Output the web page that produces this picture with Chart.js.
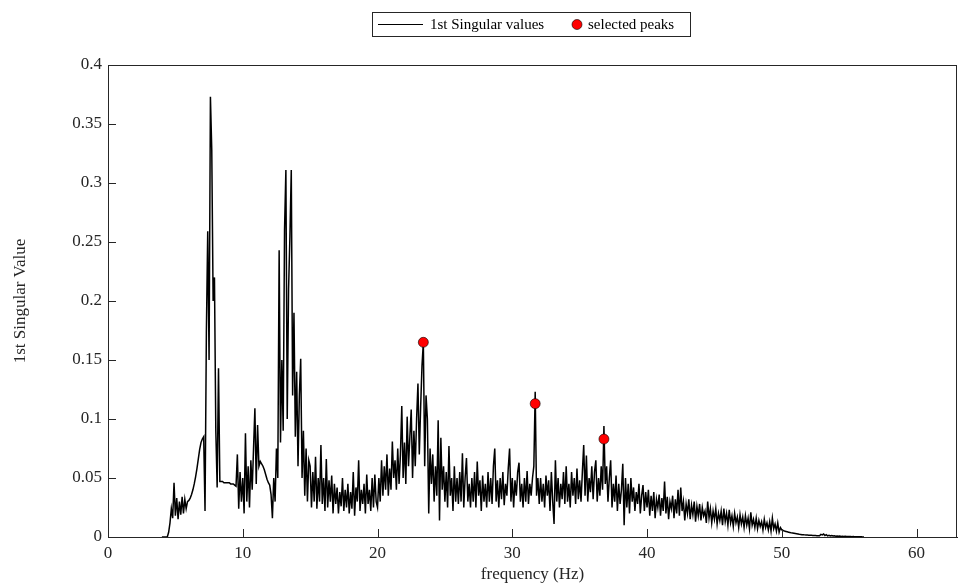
<!DOCTYPE html>
<html>
<head>
<meta charset="utf-8">
<script src="https://cdn.jsdelivr.net/npm/chart.js@4.4.1/dist/chart.umd.min.js"></script>
<style>
  html, body { margin: 0; padding: 0; background: #fff; }
  #wrap { width: 959px; height: 587px; }
</style>
</head>
<body>
<div id="wrap"><canvas id="svd-chart" width="959" height="587"></canvas></div>
<script>
// frequency bins of the spectrum (Hz)
const freqStart = 4.0;
const freqStep = 0.1;

// 1st singular value, one row per Hz (4.0 ... 56.1 Hz)
const singularValues = [
  0, 0, 0, 0, 0, 0.004, 0.012, 0.024, 0.016, 0.046,
  0.018, 0.033, 0.015, 0.03, 0.019, 0.034, 0.02, 0.032, 0.024, 0.03,
  0.031, 0.033, 0.036, 0.04, 0.045, 0.051, 0.058, 0.066, 0.074, 0.08,
  0.083, 0.085, 0.022, 0.173, 0.259, 0.15, 0.373, 0.328, 0.2, 0.22,
  0.09, 0.042, 0.143, 0.047, 0.047, 0.047, 0.046, 0.046, 0.046, 0.046,
  0.046, 0.045, 0.045, 0.045, 0.044, 0.043, 0.07, 0.024, 0.055, 0.03,
  0.05, 0.02, 0.088, 0.03, 0.06, 0.025, 0.065, 0.04, 0.075, 0.109,
  0.045, 0.095, 0.06, 0.064, 0.062, 0.06, 0.057, 0.053, 0.049, 0.046,
  0.044, 0.036, 0.016, 0.05, 0.03, 0.075, 0.05, 0.243, 0.08, 0.15,
  0.09, 0.26, 0.311, 0.1, 0.21, 0.255, 0.311, 0.12, 0.19, 0.085,
  0.14, 0.06, 0.12, 0.151, 0.05, 0.09, 0.035, 0.075, 0.03, 0.065,
  0.06, 0.025, 0.055, 0.03, 0.068, 0.024, 0.05, 0.03, 0.078, 0.028,
  0.05, 0.022, 0.066, 0.025, 0.048, 0.03, 0.052, 0.02, 0.045, 0.028,
  0.042, 0.02, 0.038, 0.026, 0.05, 0.022, 0.04, 0.025, 0.045, 0.02,
  0.038, 0.024, 0.055, 0.018, 0.042, 0.03, 0.065, 0.022, 0.04, 0.028,
  0.045, 0.02, 0.053, 0.028, 0.04, 0.022, 0.05, 0.025, 0.053, 0.03,
  0.025, 0.05, 0.03, 0.065, 0.035, 0.06, 0.04, 0.07, 0.035, 0.058,
  0.04, 0.081, 0.05, 0.065, 0.04, 0.075, 0.045, 0.07, 0.111, 0.05,
  0.08, 0.045, 0.102, 0.06, 0.085, 0.108, 0.05, 0.09, 0.06, 0.1,
  0.13, 0.07, 0.11, 0.145, 0.165, 0.06, 0.12, 0.1, 0.02, 0.075,
  0.045, 0.07, 0.03, 0.06, 0.035, 0.099, 0.014, 0.084, 0.04, 0.06,
  0.03, 0.055, 0.025, 0.077, 0.035, 0.05, 0.022, 0.06, 0.03, 0.05,
  0.028, 0.055, 0.03, 0.071, 0.025, 0.05, 0.067, 0.03, 0.045, 0.025,
  0.05, 0.03, 0.055, 0.025, 0.064, 0.035, 0.048, 0.022, 0.052, 0.03,
  0.045, 0.025, 0.055, 0.03, 0.05, 0.028, 0.06, 0.075, 0.03, 0.048,
  0.025, 0.05, 0.032, 0.055, 0.027, 0.045, 0.035, 0.058, 0.075, 0.03,
  0.05, 0.025, 0.048, 0.035, 0.055, 0.063, 0.03, 0.045, 0.025, 0.05,
  0.03, 0.056, 0.028, 0.045, 0.035, 0.05, 0.06, 0.123, 0.035, 0.05,
  0.028, 0.05, 0.03, 0.045, 0.025, 0.052, 0.035, 0.048, 0.022, 0.055,
  0.03, 0.011, 0.065, 0.03, 0.05, 0.025, 0.045, 0.032, 0.055, 0.028,
  0.06, 0.03, 0.045, 0.025, 0.055, 0.035, 0.05, 0.028, 0.058, 0.032,
  0.048, 0.03, 0.055, 0.078, 0.035, 0.069, 0.03, 0.05, 0.038, 0.06,
  0.032, 0.055, 0.065, 0.03, 0.05, 0.035, 0.06, 0.04, 0.094, 0.045,
  0.06, 0.03, 0.05, 0.065, 0.025, 0.045, 0.03, 0.052, 0.022, 0.045,
  0.028, 0.04, 0.062, 0.01, 0.05, 0.025, 0.045, 0.02, 0.05, 0.03,
  0.042, 0.022, 0.038, 0.028, 0.045, 0.02, 0.035, 0.044, 0.022, 0.038,
  0.025, 0.04, 0.018, 0.035, 0.022, 0.038, 0.016, 0.032, 0.025, 0.036,
  0.018, 0.033, 0.022, 0.047, 0.02, 0.034, 0.015, 0.03, 0.024, 0.035,
  0.016, 0.032, 0.02, 0.04, 0.018, 0.042, 0.022, 0.03, 0.014, 0.028,
  0.02, 0.032, 0.015, 0.027, 0.019, 0.03, 0.013, 0.026, 0.018, 0.028,
  0.014, 0.025, 0.018, 0.022, 0.012, 0.03, 0.016, 0.024, 0.012, 0.022,
  0.015, 0.024, 0.011, 0.02, 0.014, 0.022, 0.01, 0.024, 0.013, 0.02,
  0.01, 0.023, 0.012, 0.018, 0.009, 0.02, 0.012, 0.017, 0.008, 0.019,
  0.011, 0.017, 0.008, 0.018, 0.01, 0.016, 0.007, 0.021, 0.01, 0.015,
  0.008, 0.016, 0.007, 0.014, 0.009, 0.013, 0.006, 0.015, 0.008, 0.012,
  0.006, 0.013, 0.005, 0.016, 0.007, 0.011, 0.005, 0.012, 0.004, 0.008,
  0.006, 0.0055, 0.005, 0.0047, 0.0044, 0.0041, 0.0038, 0.0035, 0.0033, 0.0031,
  0.0029, 0.0027, 0.0025, 0.0023, 0.0022, 0.002, 0.0019, 0.0018, 0.0017, 0.0016,
  0.0015, 0.0014, 0.0014, 0.0013, 0.0012, 0.0012, 0.0011, 0.0011, 0.001, 0.0022,
  0.0018, 0.0025, 0.0012, 0.002, 0.001, 0.0015, 0.0009, 0.0013, 0.0008, 0.001,
  0.0007, 0.0009, 0.0006, 0.0008, 0.0005, 0.0007, 0.0005, 0.0006, 0.0004, 0.0005,
  0.0004, 0.0005, 0.0003, 0.0004, 0.0003, 0.0003, 0.0002, 0.0003, 0.0002, 0.0002,
  0.0001, 0
];

// picked peaks
const peakFreqs = [23.4, 31.7, 36.8];
const peakValues = [0.165, 0.113, 0.083];

const seriesLabels = ['1st Singular values', 'selected peaks'];
const xTitle = 'frequency (Hz)';
const yTitle = '1st Singular Value';

const axisColor = '#262626';
const serif = '"Liberation Serif", "Times New Roman", serif';

const lineData = singularValues.map((v, i) => ({ x: +(freqStart + i * freqStep).toFixed(2), y: v }));
const peakData = peakFreqs.map((f, i) => ({ x: f, y: peakValues[i] }));

// box around the axes + inward tick marks, MATLAB style
const boxAndTicks = {
  id: 'boxAndTicks',
  afterDatasetsDraw(chart) {
    const { ctx, chartArea: a, scales } = chart;
    ctx.save();
    ctx.strokeStyle = axisColor;
    ctx.lineWidth = 1;
    ctx.strokeRect(a.left + 0.5, a.top + 0.5, a.right - a.left - 1, a.bottom - a.top);
    ctx.beginPath();
    scales.x.ticks.forEach(t => {
      const px = Math.round(scales.x.getPixelForValue(t.value)) + 0.5;
      ctx.moveTo(px, a.bottom);
      ctx.lineTo(px, a.bottom - 8);
    });
    scales.y.ticks.forEach(t => {
      const py = Math.round(scales.y.getPixelForValue(t.value)) + 0.5;
      ctx.moveTo(a.left, py);
      ctx.lineTo(a.left + 8, py);
    });
    ctx.stroke();
    ctx.restore();
  }
};

// legend box on top
const topLegend = {
  id: 'topLegend',
  afterDraw(chart) {
    const { ctx } = chart;
    ctx.save();
    ctx.fillStyle = '#fff';
    ctx.fillRect(372, 12, 318, 24);
    ctx.strokeStyle = axisColor;
    ctx.lineWidth = 1;
    ctx.strokeRect(372.5, 12.5, 318, 24);
    ctx.strokeStyle = '#000';
    ctx.beginPath();
    ctx.moveTo(378, 24.5);
    ctx.lineTo(423, 24.5);
    ctx.stroke();
    ctx.beginPath();
    ctx.arc(577, 24.5, 5, 0, Math.PI * 2);
    ctx.fillStyle = '#ff0000';
    ctx.fill();
    ctx.lineWidth = 0.6;
    ctx.stroke();
    ctx.fillStyle = '#000';
    ctx.font = '15px ' + serif;
    ctx.textBaseline = 'middle';
    ctx.fillText(chart.data.datasets[0].label, 430, 25);
    ctx.fillText(chart.data.datasets[1].label, 588, 25);
    ctx.restore();
  }
};

new Chart(document.getElementById('svd-chart'), {
  type: 'line',
  data: {
    datasets: [
      {
        label: seriesLabels[0],
        data: lineData,
        borderColor: '#000',
        borderWidth: 1.5,
        pointRadius: 0,
        tension: 0,
        order: 2
      },
      {
        type: 'scatter',
        label: seriesLabels[1],
        data: peakData,
        backgroundColor: '#ff0000',
        borderColor: '#000',
        borderWidth: 0.6,
        pointRadius: 5,
        order: 1
      }
    ]
  },
  options: {
    responsive: false,
    animation: false,
    layout: { autoPadding: false, padding: { top: 65, right: 2, left: 0, bottom: 0 } },
    plugins: {
      legend: { display: false },
      tooltip: { enabled: false }
    },
    scales: {
      x: {
        type: 'linear',
        min: 0,
        max: 63,
        grid: { display: false, drawTicks: false },
        border: { color: axisColor },
        ticks: {
          stepSize: 10,
          includeBounds: false,
          maxRotation: 0,
          padding: 6,
          color: axisColor,
          font: { family: serif, size: 17 }
        },
        title: {
          display: true,
          text: xTitle,
          color: axisColor,
          font: { family: serif, size: 17 },
          padding: { top: 0, bottom: 2 }
        },
        afterFit: s => { s.height = 50; s.paddingLeft = 0; s.paddingRight = 0; }
      },
      y: {
        min: 0,
        max: 0.4,
        grid: { display: false, drawTicks: false },
        border: { color: axisColor },
        ticks: {
          stepSize: 0.05,
          padding: 6,
          color: axisColor,
          font: { family: serif, size: 17 },
          callback: v => String(+v.toFixed(2))
        },
        title: {
          display: true,
          text: yTitle,
          color: axisColor,
          font: { family: serif, size: 17 },
          padding: { top: 10, bottom: 0 }
        },
        afterFit: s => { s.width = 108; s.paddingTop = 0; s.paddingBottom = 0; }
      }
    }
  },
  plugins: [boxAndTicks, topLegend]
});
</script>
</body>
</html>
